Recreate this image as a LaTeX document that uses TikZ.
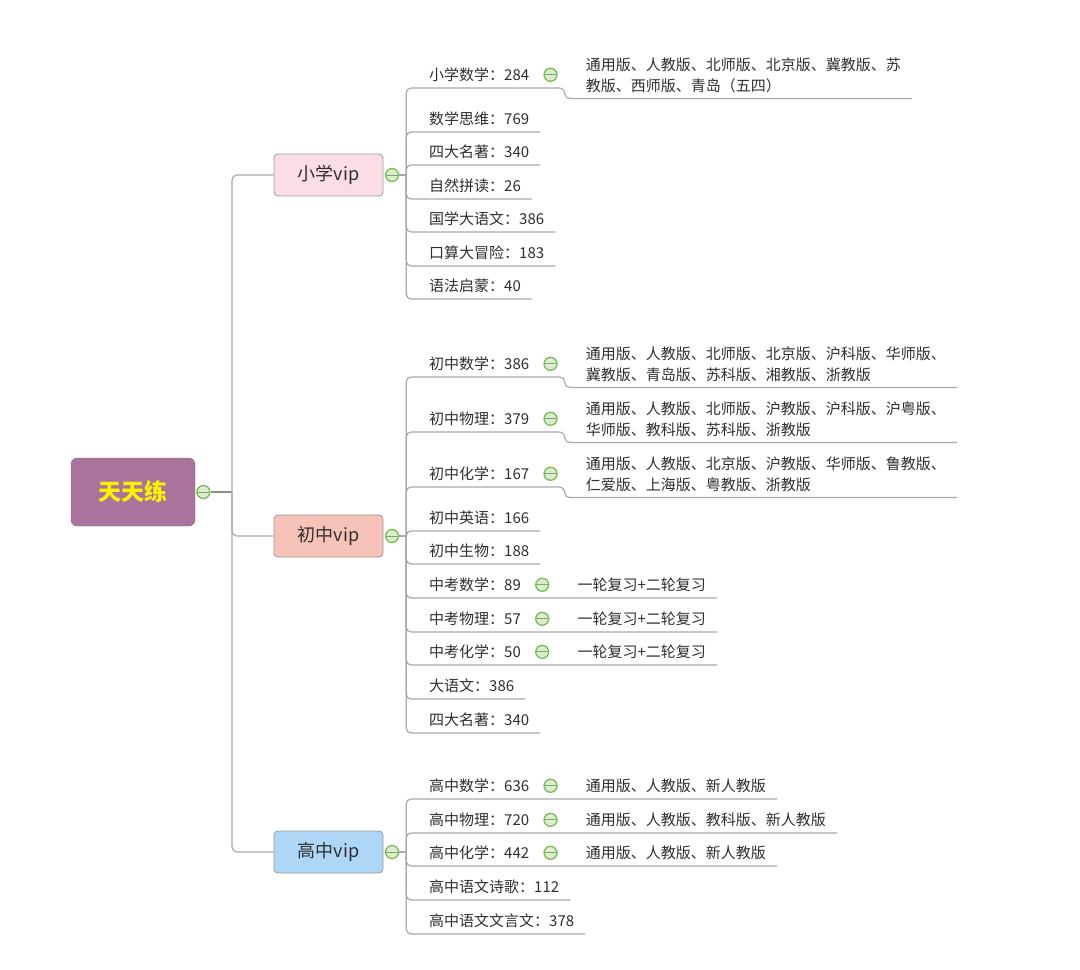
\documentclass[tikz,border=0pt]{standalone}
\usepackage{fontspec}
\setmainfont{Noto Sans CJK SC}
\usetikzlibrary{positioning}
\definecolor{linegray}{HTML}{A9A9A9}
\definecolor{trunkgray}{HTML}{8C8C8C}
\definecolor{textgray}{HTML}{2E2E2E}
\definecolor{rootpurple}{HTML}{A8749B}
\definecolor{pinkvip}{HTML}{FCDCE5}
\definecolor{salmonvip}{HTML}{F7C3B8}
\definecolor{bluevip}{HTML}{AED7F7}
\definecolor{togglegreen}{HTML}{74C04F}
\definecolor{togglefill}{HTML}{DDEBD3}
\newcommand\leafstrut{\rule[-1.8pt]{0pt}{15pt}}

\begin{document}
\begin{tikzpicture}[x=1pt,y=-1pt,
  branch/.style={draw=linegray,line width=1.2pt,rounded corners=5pt},
  trunk/.style={draw=trunkgray,line width=1.6pt},
  root node/.style={rectangle,rounded corners=6pt,draw=rootpurple!90!black,fill=rootpurple,
    minimum width=124pt,minimum height=68pt,text=yellow,font=\fontsize{23}{28}\selectfont\bfseries},
  main node/.style={rectangle,rounded corners=4pt,draw=gray!80,line width=0.8pt,
    minimum width=109pt,minimum height=42pt,text=textgray,font=\fontsize{18}{22}\selectfont},
  toggle/.style={circle,draw=togglegreen,fill=togglefill,line width=1.3pt,minimum size=13pt,inner sep=0pt,
    path picture={\draw[togglegreen!70!gray,line width=1pt] (path picture bounding box.west) -- (path picture bounding box.east);}},
  leaf/.style={anchor=south west,inner xsep=11pt,inner ysep=5.5pt,text=textgray,
    font=\fontsize{15}{21}\selectfont,execute at begin node=\leafstrut},
  detail/.style={inner xsep=11pt,inner ysep=5.5pt,text=textgray,
    font=\fontsize{15}{21}\selectfont,execute at begin node=\leafstrut},
  detail2/.style={inner xsep=11pt,inner ysep=5.5pt,text=textgray,align=left,
    font=\fontsize{15}{21}\selectfont}]
\useasboundingbox (0,0) rectangle (1080,970);

\node[root node] (ttl) at (133,492) {天天练};
\node[toggle] (t0) [right=1pt of ttl] {};
\coordinate (h0) at ([xshift=21.5pt]t0.east);

\node[main node,fill=pinkvip] (xiao) at (328.5,175) {小学vip};
\node[main node,fill=salmonvip] (chu) at (328.5,536) {初中vip};
\node[main node,fill=bluevip] (gao) at (328.5,852) {高中vip};
\node[toggle] (tx) [right=1.5pt of xiao] {};
\node[toggle] (tc) [right=1.5pt of chu] {};
\node[toggle] (tg) [right=1.5pt of gao] {};
\coordinate (hx) at ([xshift=7pt]tx.east);
\coordinate (hc) at ([xshift=7pt]tc.east);
\coordinate (hg) at ([xshift=7pt]tg.east);

% xiaoxue
\node[leaf] (x1) at (418,88) {小学数学：284};
\node[toggle] (tx1) [right=3pt of x1] {};
\node[detail2] (dx1) [right=17pt of tx1] {\leafstrut 通用版、人教版、北师版、北京版、冀教版、苏\\\leafstrut 教版、西师版、青岛（五四）};
\node[leaf] (x2) at (418,132) {数学思维：769};
\node[leaf] (x3) at (418,165) {四大名著：340};
\node[leaf] (x4) at (418,199) {自然拼读：26};
\node[leaf] (x5) at (418,232) {国学大语文：386};
\node[leaf] (x6) at (418,266) {口算大冒险：183};
\node[leaf] (x7) at (418,299) {语法启蒙：40};

% chuzhong
\node[leaf] (c1) at (418,377) {初中数学：386};
\node[toggle] (tc1) [right=3pt of c1] {};
\node[detail2] (dc1) [right=17pt of tc1] {\leafstrut 通用版、人教版、北师版、北京版、沪科版、华师版、\\\leafstrut 冀教版、青岛版、苏科版、湘教版、浙教版};
\node[leaf] (c2) at (418,432) {初中物理：379};
\node[toggle] (tc2) [right=3pt of c2] {};
\node[detail2] (dc2) [right=17pt of tc2] {\leafstrut 通用版、人教版、北师版、沪教版、沪科版、沪粤版、\\\leafstrut 华师版、教科版、苏科版、浙教版};
\node[leaf] (c3) at (418,487) {初中化学：167};
\node[toggle] (tc3) [right=3pt of c3] {};
\node[detail2] (dc3) [right=17pt of tc3] {\leafstrut 通用版、人教版、北京版、沪教版、华师版、鲁教版、\\\leafstrut 仁爱版、上海版、粤教版、浙教版};
\node[leaf] (c4) at (418,531) {初中英语：166};
\node[leaf] (c5) at (418,564) {初中生物：188};
\node[leaf] (c6) at (418,598) {中考数学：89};
\node[toggle] (tc6) [right=3pt of c6] {};
\node[detail] (dc6) [right=17pt of tc6] {一轮复习+二轮复习};
\node[leaf] (c7) at (418,632) {中考物理：57};
\node[toggle] (tc7) [right=3pt of c7] {};
\node[detail] (dc7) [right=17pt of tc7] {一轮复习+二轮复习};
\node[leaf] (c8) at (418,665) {中考化学：50};
\node[toggle] (tc8) [right=3pt of c8] {};
\node[detail] (dc8) [right=17pt of tc8] {一轮复习+二轮复习};
\node[leaf] (c9) at (418,699) {大语文：386};
\node[leaf] (c10) at (418,733) {四大名著：340};

% gaozhong
\node[leaf] (g1) at (418,799) {高中数学：636};
\node[toggle] (tg1) [right=3pt of g1] {};
\node[detail] (dg1) [right=17pt of tg1] {通用版、人教版、新人教版};
\node[leaf] (g2) at (418,833) {高中物理：720};
\node[toggle] (tg2) [right=3pt of g2] {};
\node[detail] (dg2) [right=17pt of tg2] {通用版、人教版、教科版、新人教版};
\node[leaf] (g3) at (418,866) {高中化学：442};
\node[toggle] (tg3) [right=3pt of g3] {};
\node[detail] (dg3) [right=17pt of tg3] {通用版、人教版、新人教版};
\node[leaf] (g4) at (418,900) {高中语文诗歌：112};
\node[leaf] (g5) at (418,934) {高中语文文言文：378};

\draw[trunk] (t0) -- (h0);
\draw[branch] (h0) |- (xiao.west);
\draw[branch] (h0) |- (chu.west);
\draw[branch] (h0) |- (gao.west);

\draw[branch] (tx) -- (hx);
\draw[branch] (hx) |- (x1.south west) -| ([xshift=-10pt]dx1.south west) -- (dx1.south east);
\draw[branch] (hx) |- (x2.south west) -- (x2.south east);
\draw[branch] (hx) |- (x3.south west) -- (x3.south east);
\draw[branch] (hx) |- (x4.south west) -- (x4.south east);
\draw[branch] (hx) |- (x5.south west) -- (x5.south east);
\draw[branch] (hx) |- (x6.south west) -- (x6.south east);
\draw[branch] (hx) |- (x7.south west) -- (x7.south east);

\draw[branch] (tc) -- (hc);
\draw[branch] (hc) |- (c1.south west) -| ([xshift=-10pt]dc1.south west) -- (dc1.south east);
\draw[branch] (hc) |- (c2.south west) -| ([xshift=-10pt]dc2.south west) -- (dc2.south east);
\draw[branch] (hc) |- (c3.south west) -| ([xshift=-10pt]dc3.south west) -- (dc3.south east);
\draw[branch] (hc) |- (c4.south west) -- (c4.south east);
\draw[branch] (hc) |- (c5.south west) -- (c5.south east);
\draw[branch] (hc) |- (c6.south west) -- (dc6.south east);
\draw[branch] (hc) |- (c7.south west) -- (dc7.south east);
\draw[branch] (hc) |- (c8.south west) -- (dc8.south east);
\draw[branch] (hc) |- (c9.south west) -- (c9.south east);
\draw[branch] (hc) |- (c10.south west) -- (c10.south east);

\draw[branch] (tg) -- (hg);
\draw[branch] (hg) |- (g1.south west) -- (dg1.south east);
\draw[branch] (hg) |- (g2.south west) -- (dg2.south east);
\draw[branch] (hg) |- (g3.south west) -- (dg3.south east);
\draw[branch] (hg) |- (g4.south west) -- (g4.south east);
\draw[branch] (hg) |- (g5.south west) -- (g5.south east);
\end{tikzpicture}
\end{document}
